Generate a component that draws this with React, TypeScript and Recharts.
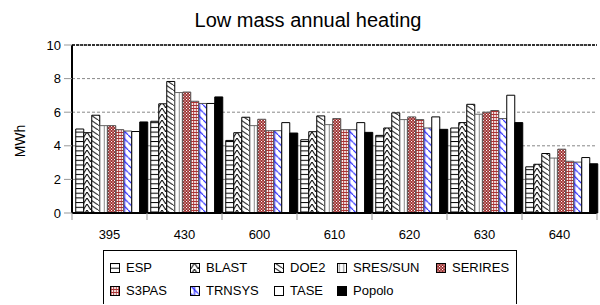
import React from 'react';
import { BarChart, Bar, XAxis, YAxis, CartesianGrid, ReferenceLine } from 'recharts';

const cases = ['395', '430', '600', '610', '620', '630', '640'];
const programs = ['ESP', 'BLAST', 'DOE2', 'SRES/SUN', 'SERIRES', 'S3PAS', 'TRNSYS', 'TASE', 'Popolo'];

const esp = [5.0, 5.46, 4.32, 4.36, 4.62, 5.06, 2.75];
const blast = [4.78, 6.5, 4.78, 4.84, 5.06, 5.38, 2.9];
const doe2 = [5.82, 7.83, 5.7, 5.78, 5.96, 6.47, 3.54];
const sresSun = [5.2, 7.17, 5.2, 5.26, 5.56, 5.88, 3.27];
const serires = [5.2, 7.2, 5.58, 5.62, 5.72, 6.0, 3.8];
const s3pas = [4.96, 6.65, 4.9, 4.96, 5.56, 6.1, 3.08];
const trnsys = [4.88, 6.52, 4.9, 4.96, 5.06, 5.62, 3.03];
const tase = [4.85, 6.52, 5.38, 5.38, 5.72, 7.01, 3.3];
const popolo = [5.42, 6.91, 4.76, 4.8, 4.98, 5.38, 2.93];

const yTicks = [0, 2, 4, 6, 8, 10];

const seriesValues = [esp, blast, doe2, sresSun, serires, s3pas, trnsys, tase, popolo];

const data = cases.map((c, i) => {
  const row: any = { name: c };
  programs.forEach((p, j) => {
    row[p] = seriesValues[j][i];
  });
  return row;
});

// fill + border for each series (patterns are defined below)
const looks: Record<string, { fill: string; stroke: string }> = {
  ESP: { fill: 'url(#pEsp)', stroke: '#000' },
  BLAST: { fill: 'url(#pBlast)', stroke: '#000' },
  DOE2: { fill: 'url(#pDoe2)', stroke: '#000' },
  'SRES/SUN': { fill: 'url(#pSres)', stroke: '#666' },
  SERIRES: { fill: 'url(#pSerires)', stroke: '#555' },
  S3PAS: { fill: 'url(#pS3pas)', stroke: '#555' },
  TRNSYS: { fill: 'url(#pTrnsys)', stroke: '#555' },
  TASE: { fill: '#fff', stroke: '#000' },
  Popolo: { fill: '#000', stroke: '#000' },
};

const font = '"Liberation Sans", Arial, sans-serif';

const Patterns = () => (
  <defs>
    <pattern id="pEsp" patternUnits="userSpaceOnUse" x="0.75" y="0" width="7.5" height="4.7">
      <rect width="7.5" height="4.7" fill="#fff" />
      <line x1="0" y1="0.5" x2="7.5" y2="0.5" stroke="#000" strokeWidth="1" />
    </pattern>
    <pattern id="pBlast" patternUnits="userSpaceOnUse" x="0.75" y="0" width="7.5" height="6">
      <rect width="7.5" height="6" fill="#fff" />
      <path d="M0,6 L3.75,0 L7.5,6" fill="none" stroke="#000" strokeWidth="1" />
    </pattern>
    <pattern id="pDoe2" patternUnits="userSpaceOnUse" x="0.75" y="0" width="7.5" height="5">
      <rect width="7.5" height="5" fill="#fff" />
      <path d="M0,0 L7.5,5" fill="none" stroke="#000" strokeWidth="1" />
    </pattern>
    <pattern id="pSres" patternUnits="userSpaceOnUse" x="0.75" y="0" width="7.5" height="4">
      <rect width="7.5" height="4" fill="#fff" />
      <line x1="1.5" y1="0" x2="1.5" y2="4" stroke="#888" strokeWidth="1" />
      <line x1="6" y1="0" x2="6" y2="4" stroke="#888" strokeWidth="1" />
    </pattern>
    <pattern id="pSerires" patternUnits="userSpaceOnUse" x="0" y="0" width="3" height="3">
      <rect width="3" height="3" fill="#9c2a2a" />
      <rect x="0" y="0" width="1.1" height="1.1" fill="#fff" />
      <rect x="1.5" y="1.5" width="1.1" height="1.1" fill="#fff" />
    </pattern>
    <pattern id="pS3pas" patternUnits="userSpaceOnUse" x="0.75" y="0" width="2.5" height="3">
      <rect width="2.5" height="3" fill="#fff" />
      <line x1="0.5" y1="0" x2="0.5" y2="3" stroke="#a33" strokeWidth="1" />
      <line x1="0" y1="0.5" x2="2.5" y2="0.5" stroke="#a33" strokeWidth="1" />
    </pattern>
    <pattern id="pTrnsys" patternUnits="userSpaceOnUse" x="0.75" y="0" width="7.5" height="7.5">
      <rect width="7.5" height="7.5" fill="#fff" />
      <line x1="3.75" y1="0" x2="3.75" y2="7.5" stroke="#00f" strokeWidth="1" />
      <path d="M0,0 L7.5,7.5" fill="none" stroke="#00f" strokeWidth="1" />
    </pattern>
  </defs>
);

const XTick = (props: any) => {
  const { x, y, payload, index, width, visibleTicksCount } = props;
  const step = width && visibleTicksCount ? width / visibleTicksCount : 75;
  return (
    <g>
      <line x1={x - step / 2} y1={y} x2={x - step / 2} y2={y + 7} stroke="#999" />
      {index === visibleTicksCount - 1 && (
        <line x1={x + step / 2} y1={y} x2={x + step / 2} y2={y + 7} stroke="#999" />
      )}
      <text x={x} y={y + 26} textAnchor="middle" fontSize={13} fill="#000" fontFamily={font}>
        {payload.value}
      </text>
    </g>
  );
};

// legend grid positions (relative to legend box)
const legendSpots = [
  { left: 6, top: 9 },
  { left: 86, top: 9 },
  { left: 170, top: 9 },
  { left: 233, top: 9 },
  { left: 332, top: 9 },
  { left: 6, top: 32 },
  { left: 86, top: 32 },
  { left: 170, top: 32 },
  { left: 233, top: 32 },
];

const LegendBox = () => (
  <div
    style={{
      position: 'absolute',
      left: 103,
      top: 250,
      width: 414,
      height: 54,
      border: '1px solid #000',
      borderBottom: 'none',
      boxSizing: 'border-box',
      fontFamily: font,
      fontSize: 13,
    }}
  >
    {programs.map((p, i) => (
      <div
        key={p}
        style={{
          position: 'absolute',
          left: legendSpots[i].left,
          top: legendSpots[i].top,
          display: 'flex',
          alignItems: 'center',
          whiteSpace: 'nowrap',
        }}
      >
        <svg width={10} height={10} style={{ marginRight: 6 }}>
          <rect x={0.5} y={0.5} width={9} height={9} fill={looks[p].fill} stroke="#000" />
        </svg>
        <span>{p}</span>
      </div>
    ))}
  </div>
);

export default function App() {
  return (
    <div style={{ position: 'absolute', left: 0, top: 0, width: 600, height: 305, background: '#fff' }}>
      <div
        style={{
          position: 'absolute',
          left: 0,
          width: 616,
          top: 9,
          textAlign: 'center',
          fontFamily: font,
          fontSize: 20,
        }}
      >
        Low mass annual heating
      </div>
      <div
        style={{
          position: 'absolute',
          left: 20,
          top: 141,
          transform: 'translate(-50%, -50%) rotate(-90deg)',
          fontFamily: font,
          fontSize: 14,
        }}
      >
        MWh
      </div>
      <BarChart
        width={600}
        height={305}
        data={data}
        margin={{ top: 45, right: 3, bottom: 62, left: 0 }}
        barCategoryGap="5%"
        barGap={0}
      >
        <Patterns />
        <CartesianGrid vertical={false} stroke="#888" strokeDasharray="3 2" yAxisId="left" />
        <XAxis
          dataKey="name"
          height={30}
          tickSize={0}
          tickMargin={0}
          interval={0}
          tick={<XTick />}
          axisLine={{ stroke: '#000', strokeWidth: 2 }}
        />
        <YAxis
          yAxisId="left"
          width={72}
          domain={[0, 10]}
          ticks={yTicks}
          tickSize={8}
          tickMargin={3}
          tickLine={{ stroke: '#999' }}
          axisLine={{ stroke: '#000', strokeWidth: 2 }}
          tick={{ fontSize: 13, fill: '#000', fontFamily: font }}
        />
        <YAxis
          yAxisId="right"
          orientation="right"
          width={0}
          domain={[0, 10]}
          tick={false}
          tickLine={false}
          axisLine={{ stroke: '#000', strokeWidth: 3 }}
        />
        <ReferenceLine yAxisId="left" y={10} stroke="#000" strokeWidth={1.5} strokeDasharray="3 1" />
        {programs.map((p) => (
          <Bar
            key={p}
            yAxisId="left"
            dataKey={p}
            fill={looks[p].fill}
            stroke={looks[p].stroke}
            strokeWidth={1}
            isAnimationActive={false}
          />
        ))}
      </BarChart>
      <LegendBox />
    </div>
  );
}
